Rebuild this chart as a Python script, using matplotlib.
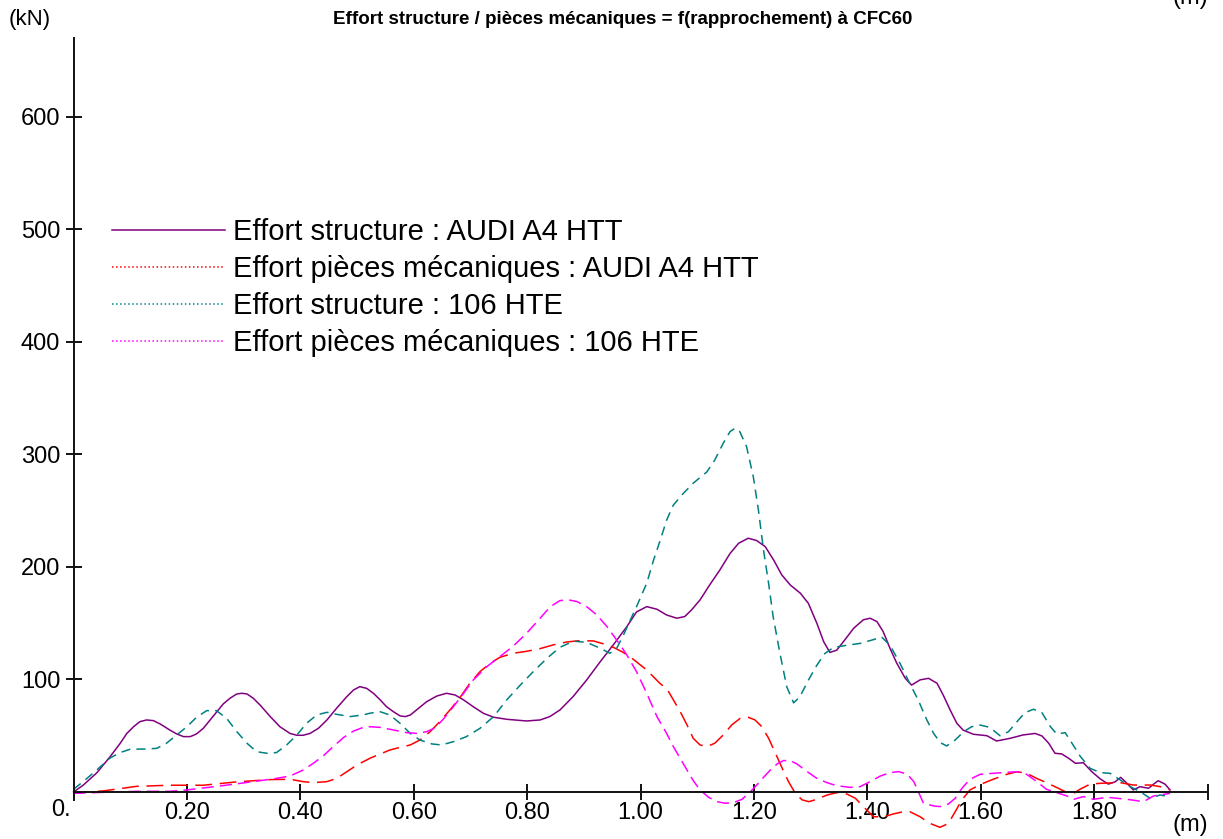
import matplotlib
matplotlib.use("Agg")
import matplotlib.pyplot as plt
from matplotlib.lines import Line2D

plt.rcParams['font.family'] = ['Liberation Sans', 'DejaVu Sans']

# Effort structure : AUDI A4 HTT (kN vs m)
audi_struct_x = [0.0, 0.017, 0.041, 0.064, 0.082, 0.094, 0.106, 0.117, 0.129, 0.141, 0.153, 0.170,
                 0.182, 0.194, 0.206, 0.217, 0.229, 0.241, 0.253, 0.264, 0.276, 0.288, 0.297, 0.306,
                 0.317, 0.329, 0.347, 0.364, 0.382, 0.394, 0.405, 0.417, 0.432, 0.447, 0.464, 0.482,
                 0.494, 0.505, 0.517, 0.529, 0.541, 0.552, 0.564, 0.576, 0.585, 0.594, 0.605, 0.623,
                 0.641, 0.658, 0.673, 0.688, 0.705, 0.723, 0.741, 0.764, 0.799, 0.823, 0.840, 0.858,
                 0.881, 0.905, 0.929, 0.952, 0.976, 0.993, 1.011, 1.029, 1.046, 1.064, 1.078, 1.090,
                 1.105, 1.122, 1.140, 1.158, 1.173, 1.190, 1.205, 1.220, 1.235, 1.249, 1.264, 1.282,
                 1.296, 1.311, 1.323, 1.334, 1.346, 1.358, 1.376, 1.393, 1.405, 1.417, 1.428, 1.440,
                 1.452, 1.467, 1.478, 1.493, 1.508, 1.523, 1.534, 1.546, 1.558, 1.569, 1.587, 1.611,
                 1.628, 1.652, 1.675, 1.696, 1.708, 1.720, 1.731, 1.743, 1.755, 1.767, 1.781, 1.796,
                 1.811, 1.825, 1.837, 1.847, 1.858, 1.869, 1.881, 1.896, 1.905, 1.913, 1.925, 1.934]
audi_struct_y = [0, 6, 17, 31, 43, 52, 58, 62.5, 64, 63.4, 60.4, 55,
                 51.6, 49.2, 49.2, 51.6, 56.6, 64, 71.4, 78.2, 83.3, 87.1, 87.7, 87.1,
                 83.3, 77.3, 67, 58, 52, 50.4, 50.4, 52, 56.6, 64, 74.4, 84.7,
                 90.7, 93.6, 92.1, 87.7, 81.8, 75.8, 71.4, 67.6, 67, 68.4, 72.9, 80.3,
                 85.3, 87.7, 86.2, 81.8, 75.8, 69.9, 66.4, 64.6, 63.1, 64, 67, 72.9,
                 84.7, 99.5, 115.8, 130.7, 147, 160, 164.7, 162.4, 157.3, 154.4, 155.9, 161.8,
                 170.7, 184, 197.3, 212, 221, 225.5, 223.4, 218, 206, 193, 184, 176.6,
                 167.7, 150, 133.6, 124, 126, 133.6, 145.5, 153, 154.4, 151.4, 142.5, 127.7,
                 114.4, 101, 95, 99.6, 101, 96.6, 86, 73, 61, 55, 51.3, 50,
                 45.3, 47.7, 50.7, 52, 49.8, 43.3, 34.4, 33.8, 30, 25.5, 26, 18,
                 11.6, 7, 9, 13, 7.7, 1.8, 4.7, 3.3, 7, 10, 7, 1.8]

# Effort pièces mécaniques : AUDI A4 HTT
audi_meca_x = [0.0, 0.053, 0.111, 0.170, 0.229, 0.288, 0.347, 0.382, 0.405, 0.423, 0.447, 0.464,
               0.482, 0.500, 0.523, 0.541, 0.558, 0.576, 0.594, 0.611, 0.629, 0.646, 0.664, 0.682,
               0.699, 0.717, 0.735, 0.752, 0.776, 0.799, 0.823, 0.846, 0.870, 0.893, 0.917, 0.935,
               0.952, 0.970, 0.987, 1.011, 1.034, 1.047, 1.058, 1.070, 1.082, 1.093, 1.105, 1.117,
               1.131, 1.146, 1.161, 1.176, 1.190, 1.202, 1.214, 1.226, 1.238, 1.250, 1.261, 1.273,
               1.285, 1.297, 1.311, 1.329, 1.346, 1.364, 1.379, 1.393, 1.411, 1.429, 1.446, 1.464,
               1.475, 1.493, 1.511, 1.528, 1.543, 1.555, 1.567, 1.581, 1.601, 1.622, 1.646, 1.664,
               1.681, 1.699, 1.716, 1.734, 1.749, 1.764, 1.775, 1.793, 1.811, 1.846, 1.869, 1.899,
               1.917, 1.934]
audi_meca_y = [-1, 1, 5, 6, 6, 9, 11, 11.3, 9.2, 8.3, 9.2, 12,
               18, 24, 30, 33.8, 37.3, 39.7, 41.8, 46.2, 53.6, 62.5, 72.9, 84.2,
               96.6, 107, 114.4, 119.7, 123.3, 125, 127.4, 130.7, 133.3, 134.5, 134.2, 131.6,
               128.6, 123.9, 118, 108.4, 96.6, 91.3, 81.8, 71.4, 59.6, 47.7, 41.8, 40.3,
               43.3, 50.7, 59.6, 65.5, 66.4, 64, 58, 47.7, 34.4, 21, 9.2, -1.2,
               -7, -8.6, -6.5, -2.7, -0.6, -1.8, -5.6, -13, -22, -22, -19.5, -17.5,
               -17.5, -22, -28, -31.4, -28, -17.5, -7, 1.8, 7, 11.3, 15.7, 18,
               16.6, 12, 8.3, 4, 0.3, -1.2, 2.4, 7, 7.7, 8.3, 6.2, 6.2,
               4.7, 1.8]

# Effort structure : 106 HTE
p106_struct_x = [0.0, 0.017, 0.041, 0.064, 0.082, 0.100, 0.129, 0.147, 0.164, 0.182, 0.200, 0.217,
                 0.235, 0.252, 0.270, 0.288, 0.306, 0.323, 0.341, 0.358, 0.376, 0.394, 0.411, 0.429,
                 0.447, 0.464, 0.488, 0.511, 0.523, 0.541, 0.558, 0.576, 0.594, 0.611, 0.632, 0.649,
                 0.670, 0.693, 0.717, 0.741, 0.764, 0.788, 0.811, 0.835, 0.858, 0.882, 0.905, 0.929,
                 0.946, 0.958, 0.970, 0.982, 0.993, 1.011, 1.023, 1.035, 1.046, 1.058, 1.073, 1.093,
                 1.117, 1.131, 1.146, 1.158, 1.167, 1.175, 1.187, 1.199, 1.208, 1.217, 1.226, 1.234,
                 1.246, 1.258, 1.270, 1.281, 1.296, 1.311, 1.325, 1.340, 1.364, 1.387, 1.411, 1.425,
                 1.440, 1.458, 1.475, 1.490, 1.505, 1.517, 1.529, 1.540, 1.555, 1.570, 1.584, 1.599,
                 1.616, 1.634, 1.649, 1.664, 1.678, 1.693, 1.708, 1.723, 1.734, 1.749, 1.761, 1.776,
                 1.793, 1.811, 1.828, 1.846, 1.864, 1.881, 1.899, 1.916, 1.934]
p106_struct_y = [2.4, 9.2, 19.5, 30, 35, 38, 38.2, 38.8, 43.3, 50.7, 58, 66.4,
                 72.3, 72.3, 65.5, 53.6, 43.3, 35.8, 34.4, 35, 41.8, 50.7, 61, 68.5,
                 70.8, 69, 67, 68.5, 70, 71.3, 68.4, 61, 52, 46.2, 42.7, 41.8,
                 44.7, 49.2, 56.6, 67, 81.8, 95, 107, 118.8, 128.6, 134, 133, 127.7,
                 123.3, 127.7, 139.5, 152.8, 164.7, 185.5, 206, 224, 241.5, 255, 264, 274.4,
                 284.4, 295, 310, 320.3, 323.3, 320.3, 307, 280, 250.4, 214.8, 185.2, 155.6,
                 123, 93.4, 79.2, 84.5, 99.3, 112.6, 123, 128.3, 130.4, 132, 135.4, 137.8,
                 130.4, 114, 96.3, 81.5, 64, 52, 43.8, 40.9, 46.2, 53.6, 58, 59.5,
                 57.4, 50, 53.6, 62.5, 70.5, 73.5, 70.5, 58, 51.6, 52.7, 43.3, 31.4,
                 21, 17.2, 16.6, 10.7, 4.7, 0.3, -5.6, -2.7, -4.1]

# Effort pièces mécaniques : 106 HTE
p106_meca_x = [0.0, 0.053, 0.111, 0.170, 0.200, 0.258, 0.317, 0.358, 0.382, 0.405, 0.423, 0.441,
               0.458, 0.476, 0.494, 0.511, 0.523, 0.541, 0.564, 0.588, 0.605, 0.623, 0.638, 0.652,
               0.670, 0.688, 0.705, 0.729, 0.752, 0.776, 0.799, 0.823, 0.841, 0.858, 0.873, 0.888,
               0.905, 0.923, 0.941, 0.958, 0.976, 0.993, 1.011, 1.029, 1.046, 1.058, 1.070, 1.082,
               1.093, 1.105, 1.120, 1.135, 1.149, 1.164, 1.179, 1.194, 1.205, 1.217, 1.229, 1.241,
               1.252, 1.264, 1.276, 1.294, 1.311, 1.329, 1.346, 1.370, 1.387, 1.405, 1.423, 1.440,
               1.455, 1.470, 1.482, 1.490, 1.499, 1.517, 1.528, 1.543, 1.555, 1.567, 1.581, 1.599,
               1.622, 1.646, 1.664, 1.681, 1.699, 1.716, 1.734, 1.752, 1.764, 1.781, 1.799, 1.823,
               1.858, 1.887, 1.905, 1.934]
p106_meca_y = [-1.2, -0.3, 0.6, 0.6, 1.8, 5.3, 9.2, 12.1, 14.2, 19.5, 25.5, 32.3,
               40.3, 48.3, 54.2, 57.4, 58, 57.4, 55.1, 52.7, 52.1, 53.6, 57.1, 64.6,
               75.8, 87.7, 99.5, 111.4, 120.3, 129.8, 141, 154.4, 164.7, 170.1, 170.7, 169.2,
               164.7, 157.3, 146.9, 135, 121.7, 106.9, 87.7, 67, 52.1, 40.3, 29.9, 19.5,
               10.1, 1.8, -4.7, -8.6, -10, -9.5, -6.5, 0.3, 6.2, 13, 19.5, 24.9,
               27.9, 27.9, 24.9, 18.1, 12.1, 8.3, 5.6, 4.1, 4.7, 9.2, 14.2, 17.2,
               18.1, 16, 9.2, 0.3, -10, -12.4, -13, -10.7, -5.6, 3.3, 11.3, 15.7,
               16.6, 17.5, 18, 15.7, 9.2, 2.4, -0.6, -3.5, -6.5, -4.1, -6.5, -4.7,
               -6.5, -8.6, -3.5, -1.2]

labels = ["Effort structure : AUDI A4 HTT",
          "Effort pièces mécaniques : AUDI A4 HTT",
          "Effort structure : 106 HTE",
          "Effort pièces mécaniques : 106 HTE"]
colors = ["#800080", "#FF0000", "#008080", "#FF00FF"]

fig = plt.figure(figsize=(12.23, 8.39), dpi=100)
W, H = 1223, 839
ax = fig.add_axes([73.5 / W, (H - 837) / H, (1207.5 - 73.5) / W, (837 - 38) / H])

ax.plot(audi_struct_x, audi_struct_y, color=colors[0], lw=1.1, clip_on=False)
ax.plot(audi_meca_x, audi_meca_y, color=colors[1], lw=1.1, linestyle=(0, (11, 5)), clip_on=False)
ax.plot(p106_struct_x, p106_struct_y, color=colors[2], lw=1.1, linestyle=(0, (6, 4)), clip_on=False)
ax.plot(p106_meca_x, p106_meca_y, color=colors[3], lw=1.1, linestyle=(0, (8, 4)), clip_on=False)

ax.set_xlim(0, 2.0)
ax.set_ylim(-40, 670)

for s in ['top', 'right']:
    ax.spines[s].set_visible(False)
ax.spines['bottom'].set_position(('data', 0))
ax.spines['left'].set_bounds(-7, 670)
for s in ['bottom', 'left']:
    ax.spines[s].set_linewidth(1.4)
    ax.spines[s].set_color('#111111')

xticks = [0.2, 0.4, 0.6, 0.8, 1.0, 1.2, 1.4, 1.6, 1.8, 2.0]
xticklabels = ["0.20", "0.40", "0.60", "0.80", "1.00", "1.20", "1.40", "1.60", "1.80", ""]
yticks = [100, 200, 300, 400, 500, 600]
ax.set_xticks(xticks)
ax.set_xticklabels(xticklabels)
ax.set_yticks(yticks)
ax.set_yticklabels([str(v) for v in yticks])
ax.tick_params(axis='both', direction='inout', length=11, width=1.4, color='#111111',
               labelsize=17, pad=2)
ax.tick_params(axis='y', pad=4)

ax.text(-0.005, -6, "0.", ha='right', va='top', fontsize=17)

fig.text(30 / W, 1 - 20 / H, "(kN)", ha='center', va='center', fontsize=16)
fig.text(1190 / W, 1 - 825 / H, "(m)", ha='center', va='center', fontsize=17)
fig.text(1190 / W, 1 + 2 / H, "(m)", ha='center', va='center', fontsize=17)
fig.text(623 / W, 1 - 20 / H, "Effort structure / pièces mécaniques = f(rapprochement) à CFC60",
         ha='center', va='center', fontsize=13.5, fontweight='bold')

handles = [Line2D([], [], color=colors[0], lw=1.1),
           Line2D([], [], color=colors[1], lw=1.1, linestyle=':'),
           Line2D([], [], color=colors[2], lw=1.1, linestyle=':'),
           Line2D([], [], color=colors[3], lw=1.1, linestyle=':')]
fig.legend(handles, labels, loc='upper left', bbox_to_anchor=(112 / W, 1 - 218 / H),
           bbox_transform=fig.transFigure, frameon=False, fontsize=21,
           handlelength=3.87, handletextpad=0.285, labelspacing=0.31,
           borderpad=0, borderaxespad=0)

fig.savefig("out.png", dpi=100)
